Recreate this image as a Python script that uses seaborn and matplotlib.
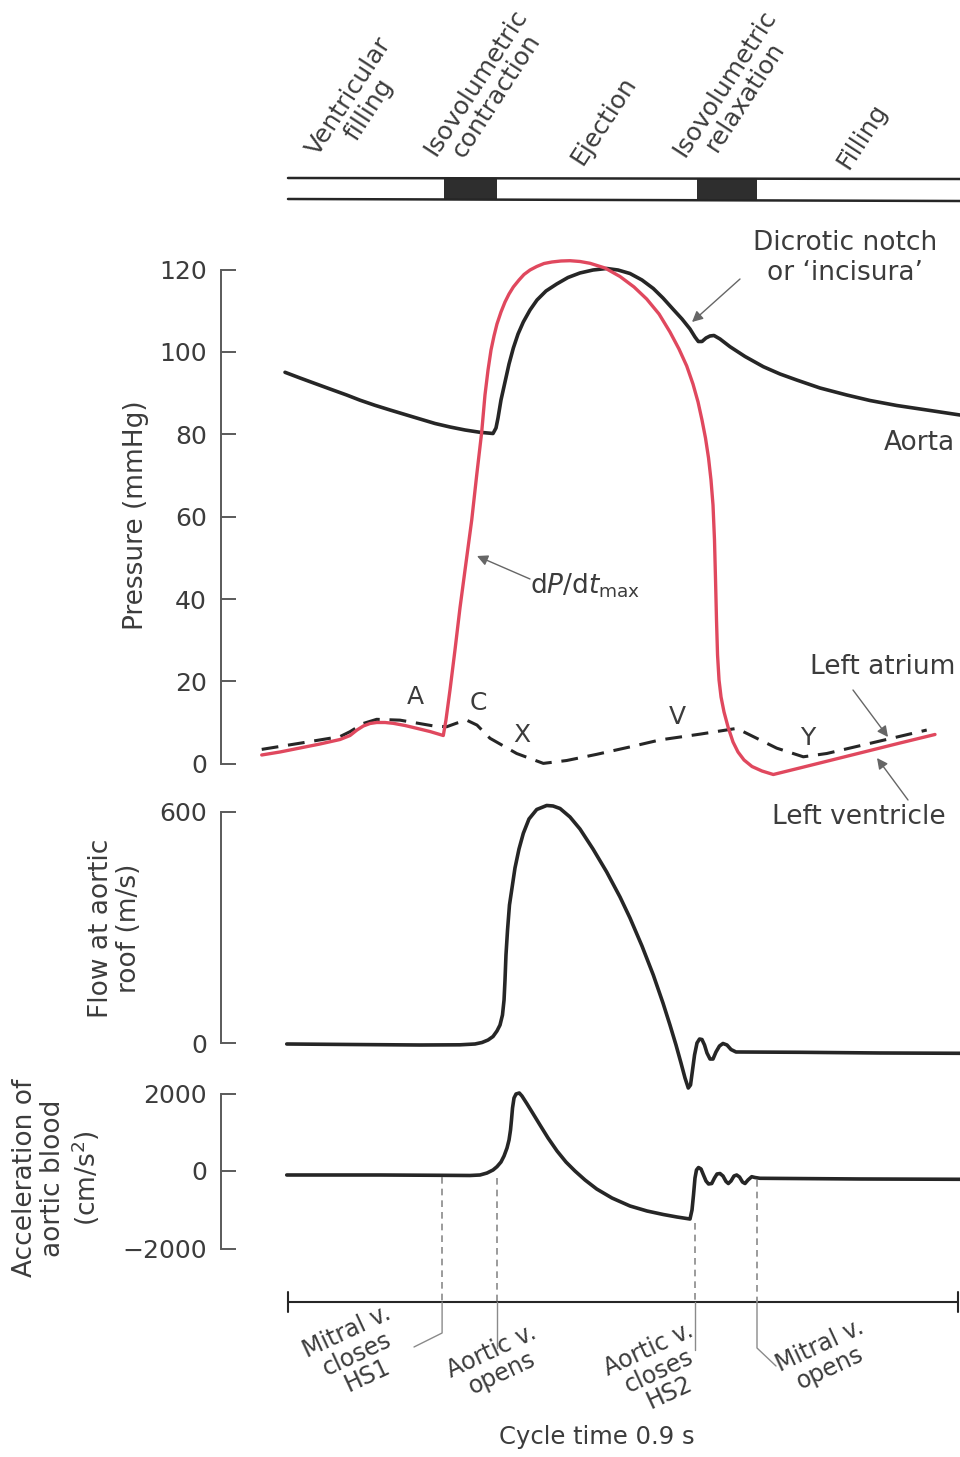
import numpy as np
import pandas as pd
import matplotlib
matplotlib.use("Agg")
import matplotlib.pyplot as plt
import seaborn as sns

# ---------------- data (time in s) ----------------
aorta_t = [-0.0040, 0.0161, 0.0363, 0.0564, 0.0789, 0.0967, 0.1169, 0.1370, 0.1572, 0.1773,
           0.1975, 0.2176, 0.2378, 0.2579, 0.2754, 0.2794, 0.2821, 0.2861, 0.2915, 0.2969,
           0.3027, 0.3090, 0.3161, 0.3251, 0.3345, 0.3466, 0.3609, 0.3761, 0.3922, 0.4097,
           0.4281, 0.4433, 0.4594, 0.4755, 0.4907, 0.5037, 0.5176, 0.5293, 0.5400, 0.5467,
           0.5512, 0.5561, 0.5615, 0.5669, 0.5722, 0.5803, 0.5937, 0.6139, 0.6385, 0.6609,
           0.6833, 0.7146, 0.7505, 0.7818, 0.8177, 0.8624, 0.9027]
aorta_p = [95.07, 93.69, 92.35, 91.02, 89.55, 88.30, 87.05, 85.92, 84.82, 83.73,
           82.64, 81.79, 81.06, 80.50, 80.21, 81.55, 83.97, 88.34, 92.71, 97.09,
           100.97, 104.37, 107.29, 110.20, 112.63, 114.82, 116.51, 118.09, 119.19, 119.91,
           120.28, 119.91, 119.06, 117.48, 115.42, 113.11, 110.32, 108.01, 105.59, 103.64,
           102.55, 102.55, 103.40, 103.89, 104.01, 103.16, 101.29, 98.91, 96.43, 94.66,
           93.20, 91.26, 89.56, 88.22, 87.01, 85.80, 84.70]

lv_t = [-0.0353, -0.0107, 0.0161, 0.0430, 0.0699, 0.0833, 0.0927, 0.1012, 0.1102, 0.1192,
        0.1303, 0.1414, 0.1572, 0.1729, 0.1907, 0.2086, 0.2122, 0.2176, 0.2243, 0.2310,
        0.2378, 0.2468, 0.2535, 0.2602, 0.2646, 0.2687, 0.2727, 0.2767, 0.2807, 0.2861,
        0.2915, 0.2969, 0.3027, 0.3103, 0.3170, 0.3251, 0.3341, 0.3439, 0.3546, 0.3667,
        0.3788, 0.3922, 0.4057, 0.4258, 0.4460, 0.4648, 0.4818, 0.4984, 0.5131, 0.5252,
        0.5356, 0.5440, 0.5508, 0.5561, 0.5608, 0.5649, 0.5682, 0.5709, 0.5729, 0.5743,
        0.5756, 0.5770, 0.5790, 0.5817, 0.5857, 0.5911, 0.5978, 0.6045, 0.6126, 0.6233,
        0.6367, 0.6519, 0.6878, 0.7549, 0.8221, 0.8691]
lv_p = [2.14, 2.87, 3.84, 4.81, 5.90, 6.87, 8.21, 9.18, 9.79, 10.03,
        10.03, 9.83, 9.30, 8.62, 7.84, 6.87, 10.64, 17.92, 27.63, 37.83,
        47.06, 59.20, 70.13, 80.57, 89.56, 95.63, 100.48, 103.88, 106.80, 109.71,
        112.14, 114.09, 115.79, 117.48, 118.82, 119.91, 120.76, 121.49, 121.86, 122.10,
        122.17, 121.98, 121.54, 120.40, 118.33, 115.79, 112.87, 109.23, 104.86, 100.73,
        96.60, 92.23, 87.86, 83.49, 79.12, 74.26, 68.92, 62.85, 54.35, 44.63,
        34.92, 26.42, 20.35, 16.22, 12.58, 8.94, 5.29, 2.86, 0.92, -0.66,
        -1.75, -2.60, -1.00, 2.02, 5.05, 7.12]

la_t = [-0.0353, 0.0161, 0.0698, 0.0833, 0.1012, 0.1191, 0.1504, 0.1952, 0.2132, 0.2270,
        0.2400, 0.2539, 0.2713, 0.3072, 0.3430, 0.3744, 0.4147, 0.4594, 0.4997, 0.5534,
        0.6027, 0.6206, 0.6565, 0.6922, 0.7237, 0.8580]
la_p = [3.5, 5.0, 6.6, 7.8, 9.8, 10.8, 10.6, 9.2, 9.0, 9.9,
        10.6, 9.4, 6.2, 2.5, 0.1, 0.8, 2.3, 4.1, 5.8, 7.2,
        8.6, 7.0, 3.8, 1.7, 2.5, 8.2]

flow_t = [-0.0017, 0.0833, 0.1773, 0.2310, 0.2512, 0.2606, 0.2687, 0.2754, 0.2807, 0.2848,
          0.2881, 0.2902, 0.2915, 0.2928, 0.2949, 0.2975, 0.3009, 0.3049, 0.3103, 0.3161,
          0.3237, 0.3341, 0.3475, 0.3560, 0.3654, 0.3788, 0.3922, 0.4097, 0.4281, 0.4460,
          0.4594, 0.4755, 0.4907, 0.5037, 0.5131, 0.5212, 0.5279, 0.5333, 0.5377, 0.5407,
          0.5434, 0.5461, 0.5494, 0.5528, 0.5561, 0.5595, 0.5628, 0.5669, 0.5709, 0.5749,
          0.5796, 0.5843, 0.5897, 0.5951, 0.6018, 0.6878, 0.7952, 0.9027]
flow_v = [-1.8, -3.1, -4.4, -3.9, -1.8, 2.1, 8.5, 17.6, 31.9, 47.4,
          73.3, 112.2, 164.0, 228.7, 293.5, 358.3, 402.3, 454.2, 503.4, 544.0,
          581.1, 605.7, 616.1, 614.8, 608.3, 586.3, 555.2, 503.4, 443.8, 379.0,
          324.6, 252.1, 176.9, 104.4, 47.4, -4.4, -51.0, -89.9, -115.8, -108.0,
          -69.2, -30.3, 0.8, 11.1, 9.8, -4.4, -25.1, -40.7, -40.7, -22.5,
          -7.0, -0.5, -4.4, -16.1, -22.5, -23.3, -25.1, -25.9]

acc_t = [-0.0017, 0.1236, 0.2042, 0.2445, 0.2579, 0.2673, 0.2754, 0.2807, 0.2861, 0.2902,
         0.2942, 0.2969, 0.2989, 0.3002, 0.3016, 0.3036, 0.3063, 0.3107, 0.3143, 0.3206,
         0.3278, 0.3385, 0.3493, 0.3614, 0.3734, 0.3855, 0.3990, 0.4147, 0.4352, 0.4594,
         0.4822, 0.5042, 0.5225, 0.5400, 0.5427, 0.5447, 0.5467, 0.5487, 0.5514, 0.5548,
         0.5581, 0.5615, 0.5649, 0.5692, 0.5729, 0.5763, 0.5803, 0.5843, 0.5884, 0.5915,
         0.5951, 0.5991, 0.6027, 0.6065, 0.6105, 0.6139, 0.6179, 0.6229, 0.6273, 0.6340,
         0.7684, 0.9027]
acc_v = [-103, -103, -111, -116, -103, -52, 26, 111, 232, 387,
         594, 800, 1058, 1316, 1626, 1884, 1987, 2013, 1935, 1747,
         1523, 1187, 852, 516, 232, 0, -232, -465, -697, -903,
         -1032, -1123, -1187, -1239, -1006, -619, -181, 26, 90, 52,
         -103, -258, -335, -323, -181, -77, -65, -129, -271, -323,
         -258, -129, -103, -155, -284, -323, -232, -147, -168, -188,
         -206, -214]

pressure_ticks = [0, 20, 40, 60, 80, 100, 120]
flow_ticks = [0, 600]
acc_ticks = [-2000, 0, 2000]

cycle_time = 0.9
event_times = [0.207, 0.281, 0.547, 0.630]   # mitral closes, aortic opens, aortic closes, mitral opens
phase_blocks = [(0.209, 0.281), (0.549, 0.630)]

phase_labels = ["Ventricular\nfilling", "Isovolumetric\ncontraction", "Ejection",
                "Isovolumetric\nrelaxation", "Filling"]
event_labels = ["Mitral v.\ncloses\nHS1", "Aortic v.\nopens", "Aortic v.\ncloses\nHS2",
                "Mitral v.\nopens"]
wave_labels = ["A", "C", "X", "V", "Y"]

# ---------------- layout ----------------
W, H = 960, 1457
sns.set_style("white")
plt.rcParams["font.family"] = ["DejaVu Sans"]
plt.rcParams["mathtext.fontset"] = "dejavusans"

TXT = "#3c3c3c"
AX = "#5a5a5a"
DARK = "#262626"
RED = "#e0485e"

fig = plt.figure(figsize=(W / 100, H / 100), dpi=100)
fig.patch.set_facecolor("white")

X0_PX, X1_PX = 288, 958          # t = 0 and t = cycle_time
def px2t(px):
    return (px - X0_PX) / (X1_PX - X0_PX) * cycle_time

def fx(px):
    return px / W
def fy(py):
    return 1 - py / H

def data_axes(ylim, zero_px, px_per_unit):
    top_px = zero_px - ylim[1] * px_per_unit
    bot_px = zero_px - ylim[0] * px_per_unit
    ax = fig.add_axes([fx(221), fy(bot_px), fx(960) - fx(221), (bot_px - top_px) / H])
    ax.set_xlim(px2t(221), px2t(960))
    ax.set_ylim(*ylim)
    ax.patch.set_alpha(0)
    for s in ["top", "right", "bottom"]:
        ax.spines[s].set_visible(False)
    ax.spines["left"].set_color(AX)
    ax.spines["left"].set_linewidth(1.4)
    ax.set_xticks([])
    ax.tick_params(axis="y", left=True, direction="in", length=11, width=1.4, color=AX,
                   labelsize=18, labelcolor=TXT, pad=10)
    return ax

ax_p = data_axes((-6, 126), 763.8, 4.118)
ax_f = data_axes((-140, 650), 1043.3, 0.386)
ax_a = data_axes((-2100, 2150), 1171.0, 0.03875)

# pressure
sns.lineplot(x=aorta_t, y=aorta_p, ax=ax_p, color=DARK, lw=2.6, estimator=None, sort=False)
sns.lineplot(x=la_t, y=la_p, ax=ax_p, color=DARK, lw=2.2, estimator=None, sort=False,
             linestyle=(0, (5.5, 3.2)))
sns.lineplot(x=lv_t, y=lv_p, ax=ax_p, color=RED, lw=2.4, estimator=None, sort=False)
ax_p.spines["left"].set_bounds(0, 120)
ax_p.set_yticks(pressure_ticks)

# flow
sns.lineplot(x=flow_t, y=flow_v, ax=ax_f, color=DARK, lw=2.6, estimator=None, sort=False)
ax_f.spines["left"].set_bounds(0, 600)
ax_f.set_yticks(flow_ticks)

# acceleration
sns.lineplot(x=acc_t, y=acc_v, ax=ax_a, color=DARK, lw=2.6, estimator=None, sort=False)
ax_a.spines["left"].set_bounds(-2000, 2000)
ax_a.set_yticks(acc_ticks)
ax_a.set_yticklabels(["\u22122000", "0", "2000"])

for ax in (ax_p, ax_f, ax_a):
    ax.set_xlabel("")
    ax.set_ylabel("")
    for ln in ax.lines:
        ln.set_solid_joinstyle("round")
        ln.set_solid_capstyle("round")

# overlay axes (x in time, y in pixels)
ov = fig.add_axes([0, 0, 1, 1])
ov.set_xlim(px2t(0), px2t(W))
ov.set_ylim(H, 0)
ov.axis("off")

# phase bar
ov.plot([0, px2t(W)], [178, 179], color=DARK, lw=1.8)
ov.plot([0, px2t(W)], [199, 201], color=DARK, lw=1.8)
for a, b in phase_blocks:
    ov.fill_between([a, b], 178.5, 200, color="#2e2e2e", lw=0)

phase_pos = [(359, 103), (486, 89), (604, 121), (735, 90), (862, 136)]
for lab, (px, py) in zip(phase_labels, phase_pos):
    ov.text(px2t(px), py, lab, rotation=57, ha="center", va="center",
            fontsize=18, color=TXT, linespacing=1.05, multialignment="center")

# time axis
ov.plot([0, cycle_time], [1302, 1302], color=DARK, lw=1.5)
for t in (0, cycle_time):
    ov.plot([t, t], [1292, 1312], color=DARK, lw=1.5)

# event dashed lines and leaders
dash_start = [1177, 1178, 1223, 1180]
for t, y0 in zip(event_times, dash_start):
    ov.plot([t, t], [y0, 1302], color="#8a8a8a", lw=1.2, ls=(0, (4, 3)))
ov.plot([event_times[0], event_times[0], px2t(414)], [1302, 1333, 1347], color="#8a8a8a", lw=1.0)
ov.plot([event_times[1], event_times[1]], [1302, 1348], color="#8a8a8a", lw=1.0)
ov.plot([event_times[2], event_times[2]], [1302, 1350], color="#8a8a8a", lw=1.0)
ov.plot([event_times[3], event_times[3], px2t(776)], [1302, 1348, 1366], color="#8a8a8a", lw=1.0)

event_pos = [(357, 1354), (497, 1362), (659, 1371), (825, 1357)]
for lab, (px, py) in zip(event_labels, event_pos):
    ov.text(px2t(px), py, lab, rotation=25, ha="center", va="center",
            fontsize=17, color=TXT, linespacing=1.0, multialignment="center")

fig.text(fx(597), fy(1437), "Cycle time 0.9 s", ha="center", va="center",
         fontsize=17.5, color=TXT)

# axis titles
fig.text(fx(136), fy(515), "Pressure (mmHg)", rotation=90, ha="center", va="center",
         fontsize=19, color=TXT)
fig.text(fx(115), fy(928), "Flow at aortic\nroof (m/s)", rotation=90, ha="center",
         va="center", fontsize=19, color=TXT, linespacing=1.15)
fig.text(fx(57), fy(1178), "Acceleration of\naortic blood\n(cm/s$^2$)", rotation=90,
         ha="center", va="center", fontsize=19, color=TXT, linespacing=1.1)

# wave letters
wave_pos = [(415, 697), (478, 703), (522, 735), (677, 717), (808, 738)]
for lab, (px, py) in zip(wave_labels, wave_pos):
    fig.text(fx(px), fy(py), lab, ha="center", va="center", fontsize=18, color=TXT)

# annotations
def arrow(tip, tail):
    ov.annotate("", xy=(px2t(tip[0]), tip[1]), xytext=(px2t(tail[0]), tail[1]),
                arrowprops=dict(arrowstyle="-|>", color="#666666", lw=1.0,
                                mutation_scale=16, shrinkA=0, shrinkB=0))

fig.text(fx(845), fy(258), "Dicrotic notch\nor \u2018incisura\u2019", ha="center", va="center",
         fontsize=19, color=TXT, linespacing=1.15)
arrow((692, 322), (740, 279))
fig.text(fx(955), fy(443), "Aorta", ha="right", va="center", fontsize=19, color=TXT)
fig.text(fx(530), fy(586), "d$P$/d$t_{\\mathrm{max}}$", ha="left", va="center",
         fontsize=19, color=TXT)
arrow((477, 556), (530, 579))
fig.text(fx(955), fy(667), "Left atrium", ha="right", va="center", fontsize=19, color=TXT)
arrow((888, 737), (853, 690))
fig.text(fx(946), fy(817), "Left ventricle", ha="right", va="center", fontsize=19, color=TXT)
arrow((877, 758), (908, 800))

fig.savefig("out.png", dpi=100, facecolor="white")
